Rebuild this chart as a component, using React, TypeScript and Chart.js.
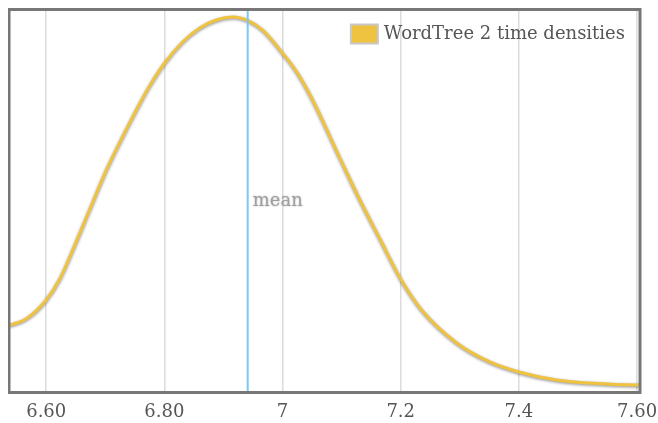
import React, { useEffect, useRef } from "react";
import { Chart, registerables } from "chart.js";

Chart.register(...registerables);

const xValues = [
  6.537, 6.567, 6.6, 6.623, 6.645, 6.674, 6.702, 6.73, 6.758, 6.775, 6.8, 6.831,
  6.86, 6.888, 6.916, 6.941, 6.967, 7.0, 7.024, 7.051, 7.097, 7.131, 7.165, 7.2,
  7.237, 7.295, 7.351, 7.4, 7.464, 7.52, 7.6, 7.605,
];
const densities = [
  0.525, 0.58, 0.725, 0.889, 1.116, 1.437, 1.743, 2.009, 2.26, 2.401, 2.577, 2.745,
  2.855, 2.918, 2.941, 2.914, 2.836, 2.659, 2.511, 2.291, 1.837, 1.508, 1.202, 0.889,
  0.638, 0.388, 0.239, 0.161, 0.098, 0.074, 0.059, 0.059,
];
const tickValues = [6.6, 6.8, 7.0, 7.2, 7.4, 7.6];
const tickLabels = ["6.60", "6.80", "7", "7.2", "7.4", "7.60"];
const meanValue = 6.941;
const meanLabel = "mean";
const seriesLabel = "WordTree 2 time densities";

const FONT = "'DejaVu Serif', serif";
const GOLD = "#efc23f";

const overlayPlugin = {
  id: "overlay",
  beforeDatasetDraw(chart: any) {
    const ctx = chart.ctx;
    ctx.save();
    ctx.shadowColor = "rgba(0,0,0,0.45)";
    ctx.shadowBlur = 3;
    ctx.shadowOffsetX = 0;
    ctx.shadowOffsetY = 1;
  },
  afterDatasetDraw(chart: any) {
    chart.ctx.restore();
  },
  afterDatasetsDraw(chart: any) {
    const { ctx, chartArea, scales } = chart;
    const xs = scales.x;
    const mx = xs.getPixelForValue(meanValue);
    ctx.save();
    // mean line
    ctx.strokeStyle = "#7cc8f2";
    ctx.lineWidth = 2;
    ctx.beginPath();
    ctx.moveTo(mx, chartArea.top);
    ctx.lineTo(mx, chartArea.bottom);
    ctx.stroke();
    // mean label
    ctx.font = `18px ${FONT}`;
    ctx.fillStyle = "#a0a0a0";
    ctx.textAlign = "left";
    ctx.textBaseline = "middle";
    ctx.shadowColor = "rgba(0,0,0,0.3)";
    ctx.shadowBlur = 2;
    ctx.fillText(meanLabel, mx + 5, (chartArea.top + chartArea.bottom) / 2);
    ctx.shadowColor = "transparent";
    ctx.shadowBlur = 0;
    // frame
    ctx.strokeStyle = "#777";
    ctx.lineWidth = 3;
    ctx.strokeRect(
      chartArea.left,
      chartArea.top,
      chartArea.right - chartArea.left,
      chartArea.bottom - chartArea.top
    );
    // legend
    const label = chart.data.datasets[0].label;
    ctx.font = `18px ${FONT}`;
    ctx.fillStyle = "#555";
    ctx.textAlign = "right";
    ctx.textBaseline = "middle";
    const ty = chartArea.top + 24.5;
    const tr = chartArea.right - 15;
    ctx.fillText(label, tr, ty);
    const tw = ctx.measureText(label).width;
    const bx = tr - tw - 33;
    ctx.fillStyle = GOLD;
    ctx.fillRect(bx, ty - 9.5, 27, 19);
    ctx.strokeStyle = "#c8c8c8";
    ctx.lineWidth = 2;
    ctx.strokeRect(bx, ty - 9.5, 27, 19);
    ctx.restore();
  },
};

export default function App() {
  const ref = useRef<HTMLCanvasElement>(null);
  useEffect(() => {
    if (!ref.current) return;
    const chart = new Chart(ref.current, {
      type: "line",
      data: {
        datasets: [
          {
            label: seriesLabel,
            data: xValues.map((x, i) => ({ x, y: densities[i] })),
            borderColor: GOLD,
            borderWidth: 3,
            pointRadius: 0,
            fill: false,
            cubicInterpolationMode: "monotone",
          },
        ],
      },
      options: {
        animation: false,
        responsive: false,
        devicePixelRatio: 1,
        layout: { padding: { left: 1, top: 1.5, right: 18, bottom: 0 } },
        plugins: { legend: { display: false }, tooltip: { enabled: false } },
        scales: {
          x: {
            type: "linear",
            min: 6.537,
            max: 7.605,
            afterBuildTicks: (scale: any) => {
              scale.ticks = tickValues.map((v) => ({ value: v }));
            },
            afterFit: (scale: any) => {
              scale.paddingLeft = 0;
              scale.paddingRight = 0;
              scale.height = 30.5;
            },
            ticks: {
              callback: (_v: any, i: number) => tickLabels[i],
              font: { family: FONT, size: 18 },
              color: "#555",
              padding: 9,
              autoSkip: false,
              maxRotation: 0,
            },
            grid: { color: "#dcdcdc", lineWidth: 1.5, drawTicks: false },
            border: { display: false },
          },
          y: { display: false, min: 0, max: 3 },
        },
      },
      plugins: [overlayPlugin],
    });
    return () => chart.destroy();
  }, []);
  return (
    <div style={{ position: "fixed", left: 8, top: 8, width: 650, height: 415 }}>
      <canvas ref={ref} width={650} height={415} style={{ display: "block", width: 650, height: 415 }} />
    </div>
  );
}
